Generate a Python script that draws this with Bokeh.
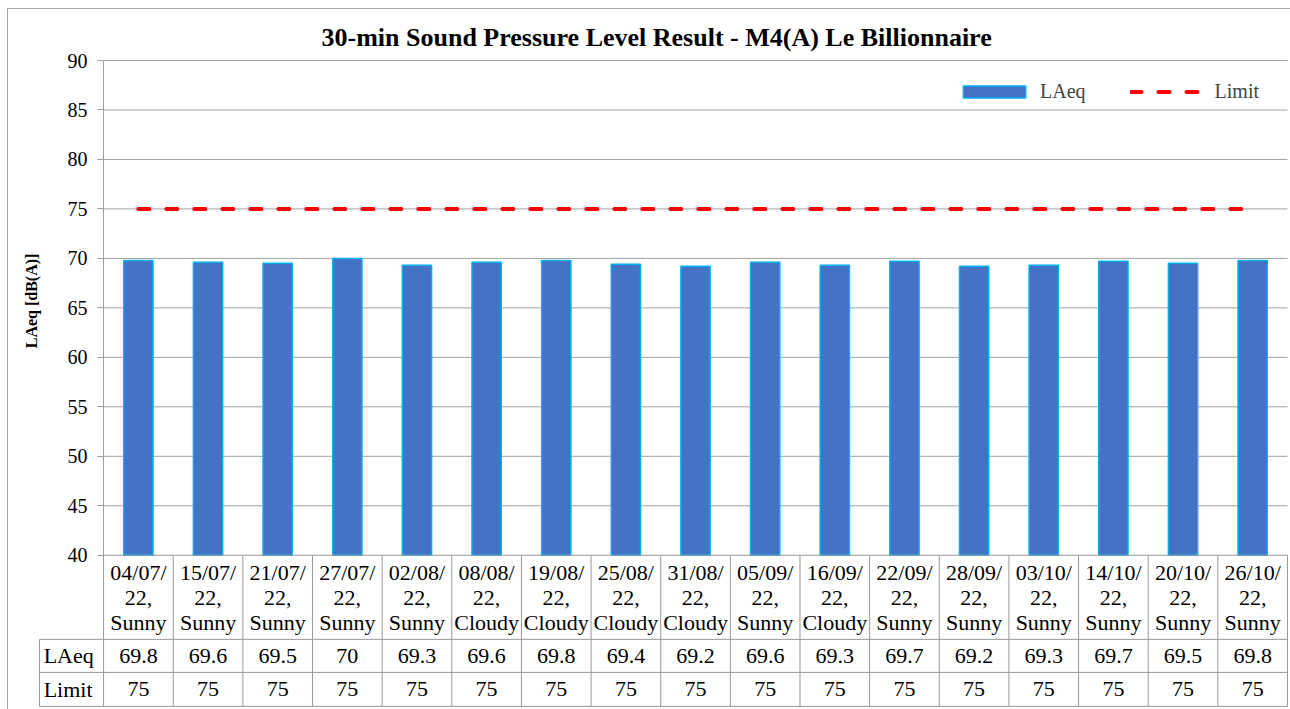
import math
from bokeh.plotting import figure
from bokeh.models import Range1d, FixedTicker, Label, Legend, LegendItem
from bokeh.core.properties import value
from bokeh.embed import file_html
from bokeh.resources import INLINE

# ---------------- data ----------------
dates = ["04/07/22", "15/07/22", "21/07/22", "27/07/22", "02/08/22", "08/08/22",
         "19/08/22", "25/08/22", "31/08/22", "05/09/22", "16/09/22", "22/09/22",
         "28/09/22", "03/10/22", "14/10/22", "20/10/22", "26/10/22"]
weather = ["Sunny", "Sunny", "Sunny", "Sunny", "Sunny", "Cloudy", "Cloudy", "Cloudy",
           "Cloudy", "Sunny", "Cloudy", "Sunny", "Sunny", "Sunny", "Sunny", "Sunny", "Sunny"]
laeq = [69.8, 69.6, 69.5, 70, 69.3, 69.6, 69.8, 69.4, 69.2, 69.6, 69.3, 69.7,
        69.2, 69.3, 69.7, 69.5, 69.8]
limit = [75, 75, 75, 75, 75, 75, 75, 75, 75, 75, 75, 75, 75, 75, 75, 75, 75]
y_ticks = [40, 45, 50, 55, 60, 65, 70, 75, 80, 85, 90]
series_names = ["LAeq", "Limit"]
title_text = "30-min Sound Pressure Level Result - M4(A) Le Billionnaire"
y_title = "LAeq [dB(A)]"

# ---------------- styling / layout constants ----------------
FONT = "Liberation Serif"
GRID = "#a0a0a0"
TABLE = "#999999"
BAR_FILL = "#4472C4"
BAR_LINE = "#00B0F0"
Y_MIN, Y_MAX = y_ticks[0], y_ticks[-1]
HEADER_BOTTOM = 31.50
ROW1_BOTTOM = 28.16
ROW2_BOTTOM = 24.72
COL_LEFT = -0.92

n = len(dates)
centers = [i + 0.5 for i in range(n)]
headers = [d[:6] + "\n" + d[6:] + ",\n" + w for d, w in zip(dates, weather)]

p = figure(width=1283, height=701,
           x_range=Range1d(-1.365, n + 0.0144), y_range=Range1d(24.41, 90.91),
           output_backend="svg", toolbar_location=None,
           min_border_left=0, min_border_right=3, min_border_top=42, min_border_bottom=1,
           title=title_text)
p.styles = {"margin-left": "7px", "margin-top": "8px",
            "border-left": "1px solid #a6a6a6", "border-top": "1px solid #a6a6a6"}
p.outline_line_color = None
p.xaxis.visible = False
p.xgrid.visible = False
p.ygrid.visible = False
p.background_fill_color = "white"
p.border_fill_color = "white"

p.title.text_font = FONT
p.title.text_font_size = "26px"
p.title.text_font_style = "bold"
p.title.align = "left"
p.title.offset = 313
p.title.text_color = "black"
p.title.standoff = 0

# y axis placed at the start of the category area
yax = p.yaxis[0]
yax.fixed_location = 0
yax.bounds = (Y_MIN, Y_MAX)
yax.ticker = FixedTicker(ticks=y_ticks)
yax.minor_tick_line_color = None
yax.major_tick_out = 6
yax.major_tick_in = 0
yax.axis_line_color = GRID
yax.major_tick_line_color = GRID
yax.major_label_text_font = FONT
yax.major_label_text_font_size = "20px"
yax.major_label_text_color = "black"
yax.major_label_standoff = 10

# horizontal gridlines at the ticks
gy = y_ticks[1:]
p.segment(x0=[0] * len(gy), x1=[n] * len(gy), y0=gy, y1=gy, line_color=GRID, line_width=1)

# bars and limit line
bars = p.vbar(x=centers, top=laeq, bottom=Y_MIN, width=0.42,
              fill_color=BAR_FILL, line_color=BAR_LINE, line_width=1.5)
lim = p.line(x=centers, y=limit, line_color="#FF0000", line_width=4,
             line_dash="11 17", line_cap="round")

legend = Legend(items=[LegendItem(label=series_names[0], renderers=[bars]),
                       LegendItem(label=series_names[1], renderers=[lim])],
                orientation="horizontal", location="top_right",
                border_line_color=None, background_fill_alpha=0,
                glyph_width=78, glyph_height=15, label_standoff=7, spacing=44,
                label_text_font=FONT, label_text_font_size="20px",
                margin=29, padding=10)
p.add_layout(legend)

# data table below the chart
vx = list(range(n + 1))
p.segment(x0=vx, x1=vx, y0=[ROW2_BOTTOM] * len(vx), y1=[Y_MIN] * len(vx),
          line_color=TABLE, line_width=1)
p.segment(x0=[COL_LEFT], x1=[COL_LEFT], y0=[ROW2_BOTTOM], y1=[HEADER_BOTTOM],
          line_color=TABLE, line_width=1)
hy = [Y_MIN, HEADER_BOTTOM, ROW1_BOTTOM, ROW2_BOTTOM]
hx0 = [0, COL_LEFT, COL_LEFT, COL_LEFT]
p.segment(x0=hx0, x1=[n] * 4, y0=hy, y1=hy, line_color=TABLE, line_width=1)

TXT = dict(text_font=value(FONT), text_font_size="22px", text_color="black",
           text_baseline="middle")
p.text(x=centers, y=[(Y_MIN + HEADER_BOTTOM) / 2] * n, text=headers,
       text_align="center", text_line_height=1.0, **TXT)
p.text(x=centers, y=[(HEADER_BOTTOM + ROW1_BOTTOM) / 2] * n,
       text=[f"{v:g}" for v in laeq], text_align="center", **TXT)
p.text(x=centers, y=[(ROW1_BOTTOM + ROW2_BOTTOM) / 2] * n,
       text=[f"{v:g}" for v in limit], text_align="center", **TXT)
p.text(x=[COL_LEFT + 0.06] * 2,
       y=[(HEADER_BOTTOM + ROW1_BOTTOM) / 2, (ROW1_BOTTOM + ROW2_BOTTOM) / 2],
       text=series_names, text_align="left", **TXT)

# y axis title
p.add_layout(Label(x=-1.04, y=65.7, text=y_title, angle=math.pi / 2,
                   text_align="center", text_baseline="middle",
                   text_font=FONT, text_font_style="bold", text_font_size="16px",
                   text_color="black"))

open("out.html", "w").write(file_html(p, INLINE))
